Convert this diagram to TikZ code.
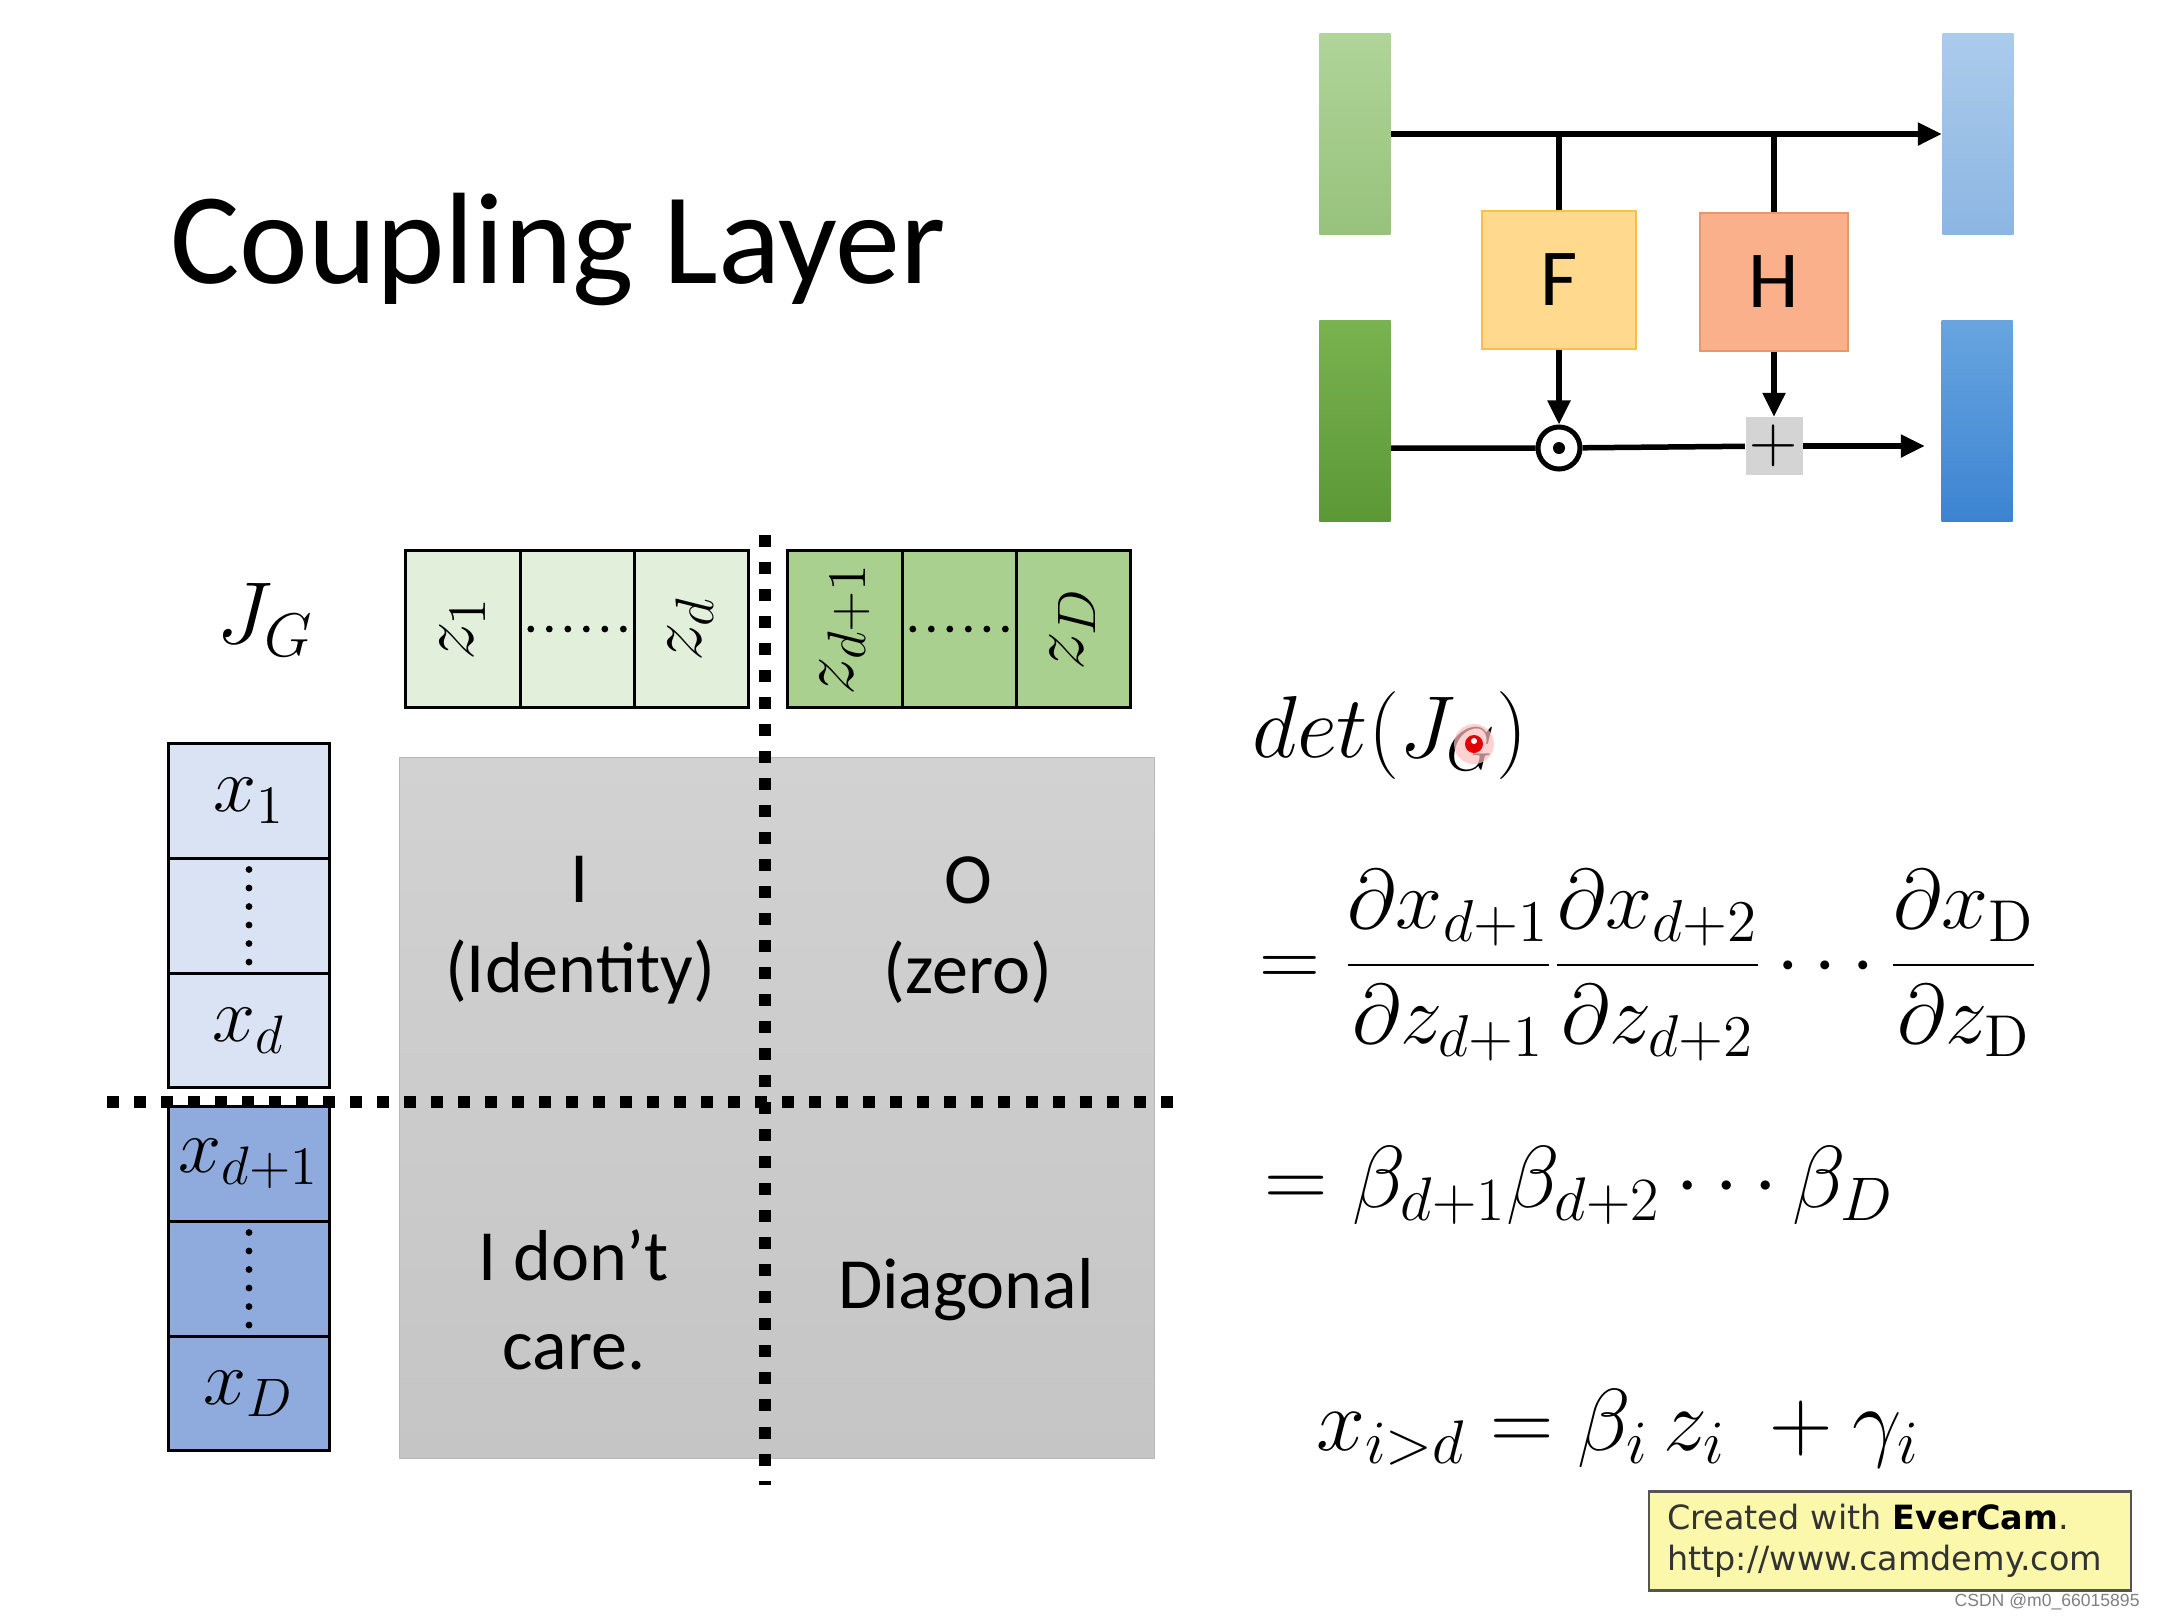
\RequirePackage{fix-cm}
\documentclass[tikz,border=0pt]{standalone}
\usepackage[no-math]{fontspec}
\setmainfont{Carlito}
\newfontfamily\camfont{DejaVu Sans}
\newfontfamily\markfont{Liberation Sans}
\usetikzlibrary{positioning}
\usetikzlibrary{calc}
\usetikzlibrary{arrows.meta}

\definecolor{gtopA}{HTML}{B0D499}
\definecolor{gtopB}{HTML}{97C27C}
\definecolor{gbotA}{HTML}{78B350}
\definecolor{gbotB}{HTML}{5C9835}
\definecolor{btopA}{HTML}{ABCBEC}
\definecolor{btopB}{HTML}{8CB6E2}
\definecolor{bbotA}{HTML}{68A5E0}
\definecolor{bbotB}{HTML}{3C84D1}
\definecolor{fcol}{HTML}{FFD98E}
\definecolor{fline}{HTML}{F7C04A}
\definecolor{hcol}{HTML}{F9B08B}
\definecolor{hline}{HTML}{E8966C}
\definecolor{plusgray}{HTML}{D4D4D4}
\definecolor{zlight}{HTML}{E2EFDA}
\definecolor{zdark}{HTML}{A9D08E}
\definecolor{xlight}{HTML}{DAE3F3}
\definecolor{xdark}{HTML}{8FAADC}
\definecolor{jactop}{HTML}{D2D2D2}
\definecolor{jacbot}{HTML}{C5C5C5}
\definecolor{jacline}{HTML}{B8B8B8}
\definecolor{camfill}{HTML}{FBF8AC}
\definecolor{camline}{HTML}{555555}
\definecolor{camtext}{HTML}{333333}

\newcommand{\zlab}[1]{\rotatebox{90}{$#1$}}

\begin{document}
\begin{tikzpicture}[x=0.01cm, y=-0.01cm,
    bar/.style={minimum width=0.71cm, minimum height=2cm, inner sep=0pt},
    fbox/.style={draw, line width=0.02cm, minimum width=1.53cm, minimum height=1.38cm, font=\fontsize{23}{27}\selectfont},
    flow/.style={line width=0.055cm},
    tip/.style={-{Triangle[length=0.24cm, width=0.22cm]}},
    zcell/.style={draw, line width=0.03cm, minimum width=1.14cm, minimum height=1.56cm, inner sep=0pt, outer sep=0pt, font=\fontsize{22}{26}\selectfont},
    xcell/.style={draw, line width=0.03cm, minimum width=1.6cm, minimum height=1.147cm, inner sep=0pt, outer sep=0pt, font=\fontsize{22}{26}\selectfont},
    sepline/.style={line width=0.12cm, dash pattern=on 0.12cm off 0.15cm},
    mtext/.style={align=center, font=\fontsize{20.5}{25.5}\selectfont},
    eq/.style={anchor=base west, font=\fontsize{25}{30}\selectfont}]

    \useasboundingbox[fill=white] (0,0) rectangle (2160,1620);

    % title
    \node[anchor=base west, font=\fontsize{37}{44}\selectfont] (title) at (158,283) {Coupling Layer};

    % coupling block
    \node[bar, top color=gtopA, bottom color=gtopB] (gt) at (1355,134) {};
    \node[bar, top color=gbotA, bottom color=gbotB] (gb) at (1355,421) {};
    \node[bar, top color=btopA, bottom color=btopB] (bt) at (1978,134) {};
    \node[bar, top color=bbotA, bottom color=bbotB] (bb) at (1977,421) {};
    \node[fbox, fill=fcol, draw=fline] (F) at (1559,280) {F};
    \node[fbox, fill=hcol, draw=hline, minimum width=1.48cm] (H) at (1774,282) {H};
    \node[circle, draw, line width=0.05cm, minimum size=0.42cm, inner sep=0pt,
      path picture={\fill (path picture bounding box.center) circle (0.06cm);}] (odot) at (1559,448) {};
    \node[fill=plusgray, minimum size=0.57cm, inner sep=0pt, font=\fontsize{19}{21}\selectfont] (plus) at (1774,446) {$+$};

    \draw[flow, tip] (gt.east) -- (bt.west);
    \draw[flow] (F.north) -- (F.north |- gt);
    \draw[flow] (H.north) -- (H.north |- gt);
    \draw[flow, tip] (F) -- (odot);
    \draw[flow, tip] (H) -- (plus);
    \draw[flow] (gb.east |- odot) -- (odot) -- (plus);
    \draw[flow, tip, shorten >=0.16cm] (plus) -- (bb.west |- plus);

    % jacobian
    \node[font=\fontsize{25}{30}\selectfont] (jg) at (265,620) {$J_G$};

    \node[zcell, fill=zlight] (z1) at (463,629) {\zlab{z_1}};
    \node[zcell, fill=zlight, right=0pt of z1] (z2) {};
    \node[zcell, fill=zlight, right=0pt of z2] (z3) {\zlab{z_d}};
    \node[zcell, fill=zdark] (z4) at (845,629) {\zlab{z_{d+1}}};
    \node[zcell, fill=zdark, right=0pt of z4] (z5) {};
    \node[zcell, fill=zdark, right=0pt of z5] (z6) {\zlab{z_D}};

    \node[xcell, fill=xlight] (x1) at (249,801) {$x_1$};
    \node[xcell, fill=xlight, below=0pt of x1] (x2) {};
    \node[xcell, fill=xlight, below=0pt of x2] (x3) {$x_d$};
    \node[xcell, fill=xdark] (x4) at (249,1164) {$x_{d+1}$};
    \node[xcell, fill=xdark, below=0pt of x4] (x5) {};
    \node[xcell, fill=xdark, below=0pt of x5] (x6) {$x_D$};

    \foreach \c in {z2,z5}
      \foreach \i in {-2.5,-1.5,...,2.5}
        \fill ([xshift=\i*0.185cm]\c.center) circle (0.034cm);
    \foreach \c in {x2,x5}
      \foreach \i in {-2.5,-1.5,...,2.5}
        \fill ([yshift=\i*0.185cm]\c.center) circle (0.034cm);

    \node[top color=jactop, bottom color=jacbot, draw=jacline, line width=0.01cm,
      minimum width=7.54cm, minimum height=7cm] (jac) at (777,1108) {};
    \node[mtext] (ident) at (580,930) {I\\(Identity)};
    \node[mtext] (zero) at (968,930) {O\\(zero)};
    \node[mtext] (care) at (574,1300) {I don't\\care.};
    \node[mtext] (diag) at (966,1290) {Diagonal};

    \draw[sepline] (765,535) -- (765,1485);
    \draw[sepline] (107,1102) -- (1178,1102);

    % determinant
    \node[eq] (det) at (1240,757) {$det(J_G)$};
    \node[eq, font=\fontsize{24}{29}\selectfont] (ratio) at (1247,986) {$\displaystyle =\frac{\partial x_{d+1}}{\partial z_{d+1}}\frac{\partial x_{d+2}}{\partial z_{d+2}}\cdots\frac{\partial x_{\mathrm{D}}}{\partial z_{\mathrm{D}}}$};
    \node[eq] (prod) at (1252,1207) {$=\beta_{d+1}\beta_{d+2}\cdots\beta_D$};
    \node[eq] (affine) at (1304,1450) {$x_{i>d}=\beta_i\,z_i\;+\gamma_i$};

    % pointer
    \fill[red!25, opacity=0.7] (1474,744) circle (0.2cm);
    \fill[red!90!black] (1474,744) circle (0.09cm);
    \fill[white] (1474,741) circle (0.03cm);

    \node[draw=camline, fill=camfill, line width=0.025cm, minimum width=4.82cm, minimum height=0.99cm,
      text width=4.45cm, align=left, text=camtext, font=\camfont\fontsize{9.5}{11.7}\selectfont] (cam) at (1890,1541)
      {Created with \textbf{\color{black}EverCam}.\\http://www.camdemy.com};
    \node[anchor=east, text=gray, font=\markfont\fontsize{5}{6}\selectfont] (mark) at (2152,1602) {CSDN @m0\_66015895};
\end{tikzpicture}
\end{document}
